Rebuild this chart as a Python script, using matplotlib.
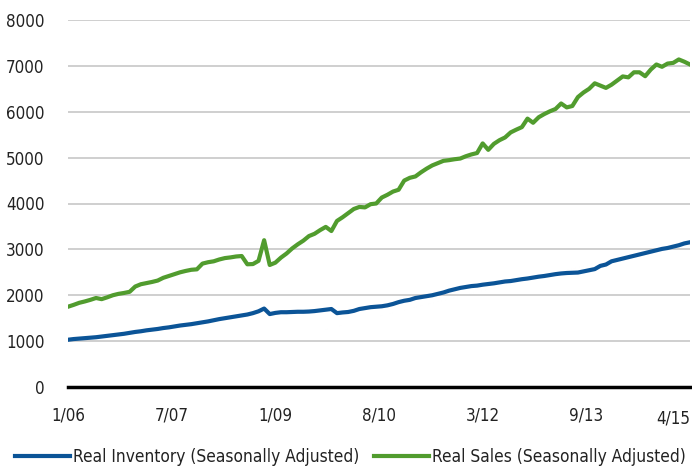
import matplotlib
matplotlib.use("Agg")
from matplotlib import pyplot as plt
from matplotlib import font_manager
import numpy as np

# cherche une police etroite (type Arial Narrow) parmi celles installees
etroite = None
for f in font_manager.fontManager.ttflist:
    if f.style != 'normal' or f.weight not in (400, 'normal', 'regular'):
        continue
    if 'Narrow' in f.name or 'Condensed' in f.name or \
            (f.stretch in ('condensed', 'semi-condensed') and 'Mono' not in f.name
             and 'Serif' not in f.name):
        etroite = f.fname
        break

if etroite:
    fp = font_manager.FontProperties(fname=etroite, size=12.2)
    fp_leg = font_manager.FontProperties(fname=etroite, size=12.4)
else:
    fp = font_manager.FontProperties(family='Liberation Sans', size=12.2)
    fp_leg = font_manager.FontProperties(family='Liberation Sans', size=11.2)

# donnees mensuelles 1/06 -> 4/15
ventes = [1750, 1790, 1835, 1865, 1900, 1940, 1915, 1955, 2000, 2030,
          2050, 2075, 2190, 2240, 2265, 2290, 2320, 2380, 2420, 2460,
          2500, 2530, 2555, 2565, 2690, 2720, 2740, 2780, 2810, 2825,
          2845, 2855, 2675, 2680, 2750, 3200, 2660, 2710, 2820, 2910,
          3020, 3110, 3190, 3290, 3340, 3420, 3490, 3400, 3620, 3700,
          3790, 3880, 3925, 3915, 3985, 4000, 4130, 4190, 4260, 4300,
          4500, 4560, 4590, 4680, 4760, 4830, 4880, 4930, 4945, 4965,
          4980, 5030, 5070, 5100, 5310, 5170, 5300, 5380, 5440, 5550,
          5610, 5665, 5850, 5760, 5880, 5950, 6010, 6060, 6180, 6095,
          6125, 6320, 6420, 6500, 6620, 6570, 6520, 6590, 6680, 6770,
          6750, 6860, 6860, 6775, 6920, 7030, 6980, 7050, 7065, 7140,
          7090, 7030]
inventaire = [1030, 1045, 1055, 1065, 1075, 1085, 1100, 1115, 1130, 1145,
              1160, 1180, 1200, 1215, 1235, 1250, 1265, 1285, 1300, 1320,
              1340, 1355, 1370, 1390, 1410, 1430, 1455, 1480, 1500, 1520,
              1540, 1560, 1580, 1610, 1650, 1710, 1590, 1615, 1630, 1630,
              1635, 1640, 1640, 1645, 1655, 1670, 1685, 1700, 1610, 1625,
              1635, 1660, 1700, 1720, 1740, 1750, 1760, 1780, 1810, 1850,
              1880, 1900, 1940, 1960, 1980, 2000, 2030, 2060, 2100, 2130,
              2160, 2180, 2200, 2210, 2230, 2245, 2260, 2280, 2300, 2310,
              2330, 2350, 2365, 2385, 2405, 2420, 2440, 2460, 2475, 2485,
              2490, 2495, 2520, 2545, 2570, 2640, 2670, 2740, 2770, 2800,
              2830, 2860, 2890, 2920, 2950, 2980, 3010, 3030, 3060, 3090,
              3130, 3155]
etiquettes = ['1/06', '7/07', '1/09', '8/10', '3/12', '9/13']
derniere = '4/15'

x = np.arange(len(ventes))
n = len(ventes) - 1

fig = plt.figure(figsize=(6.92, 4.72), dpi=100)
ax = fig.add_axes([68/692, 1-387/472, 622/692, 367/472])

ax.plot(x, inventaire, color='#0B5497', lw=3.0, solid_joinstyle='round',
        label='Real Inventory (Seasonally Adjusted)', zorder=3)
ax.plot(x, ventes, color='#519C2E', lw=3.0, solid_joinstyle='round',
        label='Real Sales (Seasonally Adjusted)', zorder=3)

ax.set_xlim(0, n)
ax.set_ylim(0, 8000)
ax.set_yticks(range(0, 8001, 1000))
ax.grid(axis='y', color='#CFCFCF', lw=1.4)
ax.set_axisbelow(True)
for s in ['top', 'right', 'left']:
    ax.spines[s].set_visible(False)
ax.spines['bottom'].set_color('black')
ax.spines['bottom'].set_linewidth(2.5)
ax.spines['bottom'].set_zorder(4)

ax.set_xticks([i * n / 6 for i in range(6)])
ax.set_xticklabels(etiquettes)
ax.tick_params(axis='both', length=0, colors='#222222')
ax.tick_params(axis='x', pad=14)
ax.tick_params(axis='y', pad=17)
for lab in ax.get_xticklabels() + ax.get_yticklabels():
    lab.set_fontproperties(fp)
ax.text(n, -0.085, derniere, transform=ax.get_xaxis_transform(),
        ha='right', va='center', fontproperties=fp, color='#222222')

fig.legend(loc='lower left', bbox_to_anchor=(15/692, 6/472), ncol=2,
           frameon=False, prop=fp_leg, handlelength=3.2, handletextpad=0.17,
           columnspacing=0.85, borderpad=0, borderaxespad=0,
           labelcolor='#222222')

fig.savefig('out.png', dpi=100)
